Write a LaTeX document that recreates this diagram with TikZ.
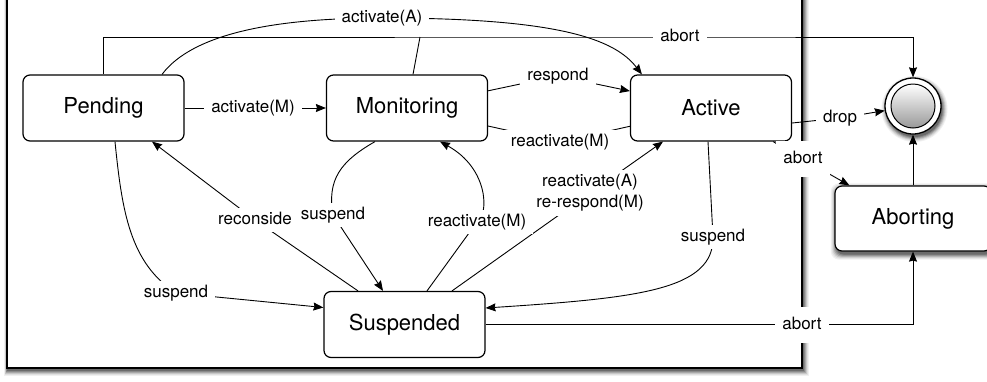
\documentclass[tikz,border=0pt]{standalone}
\usepackage{fontspec}
\setmainfont{TeX Gyre Heros}
\usetikzlibrary{arrows.meta,calc}

\pgfdeclarelayer{back}
\pgfdeclarelayer{edges}
\pgfsetlayers{back,edges,main}

\tikzset{
  state/.style={draw, line width=1.2pt, rounded corners=7pt, fill=white,
    minimum width=161pt, minimum height=66pt, inner sep=0pt,
    font=\fontsize{22}{26}\selectfont},
  lbl/.style={fill=white, inner xsep=7pt, inner ysep=4pt,
    font=\fontsize{17}{20}\selectfont, text height=12.5pt, text depth=3.5pt},
  lbltwo/.style={fill=white, inner xsep=7pt, inner ysep=4pt, align=center,
    font=\fontsize{17}{21}\selectfont},
  tall/.style={inner ysep=10pt},
  conn/.style={line width=0.9pt},
  arr/.style={conn, -{Stealth[length=10pt,width=8pt,inset=1pt]}},
}

\begin{document}
\begin{tikzpicture}[x=1pt,y=-1pt]
  \useasboundingbox (0,0) rectangle (987,381);

  % states
  \node[state] (pend) at (103.5,108) {Pending};
  \node[state] (mon)  at (407,108)   {Monitoring};
  \node[state] (act)  at (711,108)   {Active};
  \node[state] (susp) at (404.5,324.5) {Suspended};
  \node[state, minimum width=156pt, minimum height=65pt] (abrt) at (913,218.5) {Aborting};

  % final state
  \node[circle, draw, line width=1.3pt, minimum size=56pt, inner sep=0pt,
        fill=white] (fin) at (913,106) {};
  \shade[top color=white, bottom color=black!40, draw, line width=1pt]
        (fin.center) circle (22pt);

  % page, enclosing frame and soft shadows (stacked grey layers)
  \begin{pgfonlayer}{back}
    \fill[white] (0,0) rectangle (987,381);
    \foreach \s/\c in {5/6,4/12,3/22,2/34,1/46,0/58}{
      \fill[black!\c] (7-0.6*\s,-12) rectangle (803.5+\s,371+\s);
      \fill[black!\c, rounded corners=8pt]
        ($(abrt.north west)+(1.5-\s,3-\s)$) rectangle ($(abrt.south east)+(1.5+\s,3+\s)$);
      \fill[black!\c] ($(fin.center)+(1.5,3)$) circle ({28pt+\s pt});
    }
    \draw[line width=1.4pt, fill=white] (7,-12) rectangle (802,368);
  \end{pgfonlayer}

  % transition labels
  \node[lbl] (lam)   at (253,108)   {activate(M)};
  \node[lbl] (laa)   at (382,18)    {activate(A)};
  \node[lbl] (lab1)  at (680,37)    {abort};
  \node[lbl] (lresp) at (558,76)    {respond};
  \node[lbl] (lrem1) at (560,142)   {reactivate(M)};
  \node[lbl] (lsu1)  at (333,215)   {suspend};
  \node[lbl] (lrec)  at (255,220)   {reconside};
  \node[lbl] (lrem2) at (477,222)   {reactivate(M)};
  \node[lbltwo] (lrea) at (590,193) {reactivate(A)\\re-respond(M)};
  \node[lbl] (lsu2)  at (176,293)   {suspend};
  \node[lbl] (lsu3)  at (713,237)   {suspend};
  \node[lbl] (ldrop) at (840,118)   {drop};
  \node[lbl,tall] (lab2) at (803,159)   {abort};
  \node[lbl,tall] (lab3) at (802,324.5) {abort};

  \coordinate (mj) at (420,37);

  % transitions
  \begin{pgfonlayer}{edges}
    \draw[arr] (pend) -- (mon);
    \draw[arr] ($(pend.north)+(58.5,0)$) .. controls +(30,-40) and +(-110,0) .. (laa.center)
               .. controls +(178,0) and +(-27,-35) .. ($(act.north west)+(12,0)$);
    \draw[arr] (pend.north) |- (lab1.center) -| (fin.north);
    \draw[conn] ($(mon.north)+(6,0)$) -- (mj);
    \draw[arr] (mon) -- (lresp.center) -- (act);
    \draw[conn] (act) -- (lrem1.center) -- (mon);
    \draw[arr] ($(mon.south)+(-32,0)$) .. controls +(-35,20) and +(-6,-35) .. (lsu1.center)
               -- ($(susp.north)+(-21.5,0)$);
    \draw[arr] ($(susp.north)+(-46.5,0)$) -- (lrec.center) -- ($(pend.south)+(48.5,0)$);
    \draw[arr] ($(susp.north)+(22.5,0)$) -- (lrem2.center)
               .. controls +(12,-7) and +(49,27) .. ($(mon.south)+(33,0)$);
    \draw[arr] ($(susp.north)+(47.5,0)$) -- (lrea.center) -- ($(act.south)+(-48,0)$);
    \draw[arr] ($(pend.south)+(11.5,0)$) .. controls +(7,70) and +(-46,-30) .. (lsu2.center)
               -- ($(susp.west)+(0,-17)$);
    \draw[arr] ($(act.south)+(-3,0)$) -- (lsu3.center)
               .. controls +(1,53) and +(153,-10) .. ($(susp.east)+(0,-16.5)$);
    \draw[arr] (susp.east) -| (abrt.south);
    \draw[arr] (abrt) -- (fin);
    \draw[arr] ($(act.east)+(0,15)$) -- (ldrop.center) -- (fin);
    \draw[arr] ($(act.south east)+(-19,0)$) -- (lab2.center) -- ($(abrt.north west)+(15,0)$);
  \end{pgfonlayer}
\end{tikzpicture}
\end{document}
